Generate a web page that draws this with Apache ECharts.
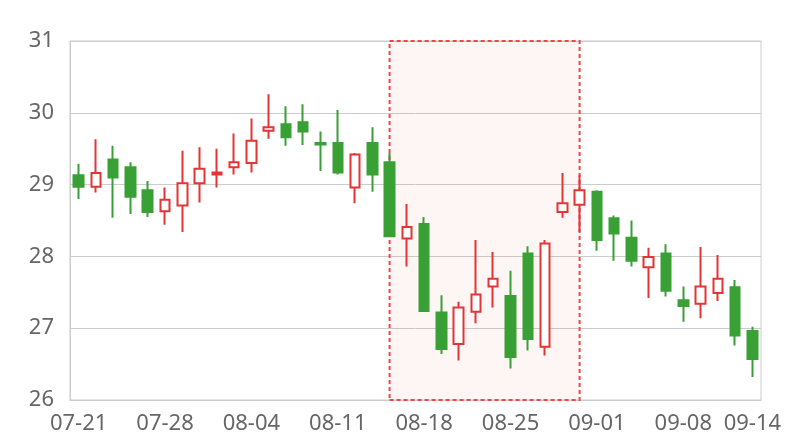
<!DOCTYPE html>
<html>
<head>
<meta charset="utf-8">
<script src="https://cdn.jsdelivr.net/npm/echarts@6/dist/echarts.min.js"></script>
<style>
html,body{margin:0;padding:0;background:#fff;}
#chart{width:800px;height:440px;}
</style>
</head>
<body>
<div id="chart"></div>
<script>
var dates = ['07-21','07-22','07-23','07-24','07-25',
  '07-28','07-29','07-30','07-31','08-01',
  '08-04','08-05','08-06','08-07','08-08',
  '08-11','08-12','08-13','08-14','08-15',
  '08-18','08-19','08-20','08-21','08-22',
  '08-25','08-26','08-27','08-28','08-29',
  '09-01','09-02','09-03','09-04','09-05',
  '09-08','09-09','09-10','09-11','09-14'];
var opens  = [29.13,28.97,29.35,29.24,28.92, 28.63,28.71,29.02,29.14,29.24,
              29.30,29.75,29.84,29.87,29.58, 29.58,28.96,29.58,29.31,28.25,
              28.45,27.22,26.78,27.23,27.58, 27.45,28.04,26.74,28.62,28.72,
              28.90,28.53,28.26,27.85,28.04, 27.39,27.34,27.49,27.57,26.96];
var closes = [28.97,29.16,29.10,28.83,28.62, 28.79,29.02,29.22,29.17,29.31,
              29.61,29.80,29.66,29.74,29.56, 29.17,29.42,29.14,28.28,28.41,
              27.24,26.71,27.29,27.47,27.69, 26.60,26.85,28.18,28.74,28.92,
              28.23,28.32,27.94,27.99,27.52, 27.31,27.58,27.69,26.90,26.57];
var lows   = [28.80,28.89,28.54,28.59,28.55, 28.44,28.34,28.75,28.96,29.14,
              29.17,29.64,29.54,29.55,29.19, 29.14,28.74,28.90,28.27,27.86,
              27.24,26.64,26.55,27.07,27.29, 26.44,26.69,26.62,28.54,28.34,
              28.08,27.94,27.86,27.42,27.44, 27.09,27.14,27.38,26.76,26.32];
var highs  = [29.29,29.63,29.54,29.31,29.05, 28.96,29.47,29.52,29.50,29.71,
              29.92,30.26,30.09,30.12,29.74, 30.04,29.44,29.80,29.44,28.73,
              28.55,27.46,27.37,28.23,28.06, 27.80,28.14,28.23,29.16,29.13,
              28.92,28.57,28.50,28.12,28.17, 27.58,28.13,28.02,27.67,27.02];
var yTicks = [26, 27, 28, 29, 30, 31];
var highlightRange = ['08-14', '08-29'];

var ohlc = dates.map(function (d, i) {
  return [opens[i], closes[i], lows[i], highs[i]];
});

var chart = echarts.init(document.getElementById('chart'));
var FONT = 'Noto Sans';
chart.setOption({
  animation: false,
  backgroundColor: '#fff',
  grid: { left: 70, right: 39, top: 41, bottom: 40, show: true, borderColor: '#ccc', borderWidth: 1 },
  xAxis: {
    type: 'category',
    data: dates,
    boundaryGap: true,
    axisLine: { show: true, lineStyle: { color: '#ccc' } },
    axisTick: { show: false },
    splitLine: { show: false },
    axisLabel: {
      color: '#666', fontFamily: FONT, fontSize: 22, margin: 13,
      interval: function (idx) { return idx % 5 === 0 || idx === dates.length - 1; }
    }
  },
  yAxis: {
    type: 'value',
    min: yTicks[0], max: yTicks[yTicks.length - 1], interval: 1,
    axisLine: { show: true, lineStyle: { color: '#ccc' } },
    axisTick: { show: false },
    splitLine: { show: true, lineStyle: { color: '#ccc', width: 1 } },
    axisLabel: { color: '#666', fontFamily: FONT, fontSize: 22, margin: 16 }
  },
  series: [{
    type: 'candlestick',
    data: ohlc,
    barWidth: 10,
    itemStyle: {
      color: '#ffffff',
      color0: '#38a035',
      borderColor: '#e33535',
      borderColor0: '#38a035',
      borderWidth: 2
    },
    markArea: {
      silent: true,
      itemStyle: {
        color: 'rgba(245,110,110,0.07)',
        borderColor: '#ec4848',
        borderWidth: 2,
        borderType: [4, 3]
      },
      data: [[{ xAxis: highlightRange[0] }, { xAxis: highlightRange[1] }]]
    }
  }]
});
</script>
</body>
</html>
